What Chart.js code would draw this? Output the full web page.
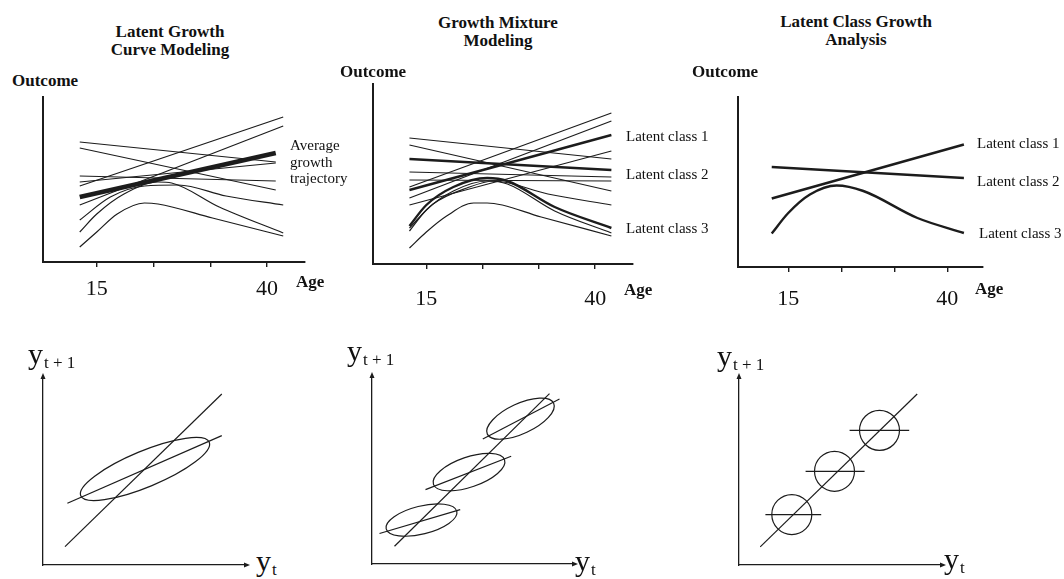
<!DOCTYPE html>
<html>
<head>
<meta charset="utf-8">
<script src="https://cdn.jsdelivr.net/npm/chart.js@4.4.1/dist/chart.umd.min.js"></script>
<style>
  html, body { margin: 0; padding: 0; background: #fff; }
  #fig { position: relative; width: 1064px; height: 579px; overflow: hidden;
         font-family: "Liberation Serif", "Times New Roman", serif; color: #111; }
  canvas { position: absolute; }
  .txt { position: absolute; white-space: nowrap; z-index: 2; }
  .title { font-weight: bold; font-size: 17px; line-height: 18px; text-align: center; transform: translateX(-50%); }
  .bold { font-weight: bold; font-size: 17px; line-height: 18px; }
  .lab { font-size: 15px; line-height: 18px; }
  .avg { font-size: 15px; line-height: 16.5px; }
  .yvar { font-size: 30px; line-height: 32px; }
  .yvar span { font-size: 17px; position: relative; top: 4px; margin-left: 1px; }
</style>
</head>
<body>
<div id="fig">
  <div class="txt title" style="left:170px; top:23px">Latent Growth<br>Curve Modeling</div>
  <div class="txt title" style="left:498px; top:14px">Growth Mixture<br>Modeling</div>
  <div class="txt title" style="left:856px; top:13px">Latent Class Growth<br>Analysis</div>

  <div class="txt bold" style="left:12px; top:72px">Outcome</div>
  <div class="txt bold" style="left:340px; top:63px">Outcome</div>
  <div class="txt bold" style="left:692px; top:63px">Outcome</div>

  <div class="txt bold" style="left:296px; top:273px">Age</div>
  <div class="txt bold" style="left:624px; top:281px">Age</div>
  <div class="txt bold" style="left:975px; top:280px">Age</div>

  <div class="txt avg" style="left:290px; top:137px">Average<br>growth<br>trajectory</div>

  <div class="txt lab" style="left:626px; top:127px">Latent class 1</div>
  <div class="txt lab" style="left:626px; top:165px">Latent class 2</div>
  <div class="txt lab" style="left:626px; top:219px">Latent class 3</div>

  <div class="txt lab" style="left:977px; top:134px">Latent class 1</div>
  <div class="txt lab" style="left:977px; top:172px">Latent class 2</div>
  <div class="txt lab" style="left:979px; top:224px">Latent class 3</div>

  <div class="txt yvar" style="left:28px; top:338px">y<span>t + 1</span></div>
  <div class="txt yvar" style="left:347px; top:335px">y<span>t + 1</span></div>
  <div class="txt yvar" style="left:717px; top:340px">y<span>t + 1</span></div>

  <div class="txt yvar" style="left:256px; top:545px">y<span>t</span></div>
  <div class="txt yvar" style="left:575px; top:545px">y<span>t</span></div>
  <div class="txt yvar" style="left:944px; top:543px">y<span>t</span></div>
</div>

<script>
// age axis (same for the three top panels)
const AGE_MIN = 7.1, AGE_MAX = 45.6;
const AGE_TICKS = [15, 23.33, 31.67, 40];
const AGE_LABELS = ['15', '', '', '40'];

// --- Latent Growth Curve Modeling: [age, outcome] ---
const lgcmAverage = [[12.5, 6.5], [41.3, 10.9]];
const lgcmIndividuals = [
    [[12.5, 12.0], [41.3, 10.0]],
    [[12.5, 11.4], [41.3, 7.2]],
    [[12.5, 8.6], [41.3, 8.1]],
    [[12.5, 8.0], [41.3, 9.9]],
    [[12.5, 7.6], [42.4, 14.5]],
    [[12.5, 5.7], [42.4, 13.6]],
    [[12.5, 4.2], [17, 6.5], [22, 7.6], [27, 7.7], [34, 6.6], [42.4, 5.7]],
    [[12.5, 3.0], [15, 4.8], [19, 6.8], [24, 8.0], [26, 7.9], [33, 5.5], [42.4, 2.9]],
    [[12.5, 1.5], [15, 3.0], [18, 4.8], [22, 5.9], [24, 5.8], [32, 4.4], [42.4, 2.6]]
];

// --- Growth Mixture Modeling ---
const gmmClasses = [
    [[12.5, 7.4], [42.4, 12.9]],
    [[12.5, 10.5], [42.4, 9.4]],
    [[12.5, 3.8], [15, 5.9], [19, 7.7], [24, 8.6], [27, 8.3], [34, 5.7], [42.4, 3.6]]
];
const gmmIndividuals = [
    [[12.5, 12.6], [42.4, 10.5]],
    [[12.5, 11.9], [42.4, 7.3]],
    [[12.5, 9.2], [42.4, 8.7]],
    [[12.5, 8.4], [42.4, 8.3]],
    [[12.5, 7.7], [42.4, 15.1]],
    [[12.5, 6.6], [42.4, 14.3]],
    [[12.5, 5.9], [42.4, 11.3]],
    [[12.5, 3.6], [16, 6.0], [21, 7.6], [25, 8.3], [33, 7.0], [42.4, 5.9]],
    [[12.5, 3.3], [15, 5.4], [19, 7.3], [24, 8.3], [27, 8.0], [34, 5.3], [42.4, 3.1]],
    [[12.5, 1.6], [15, 3.2], [18, 4.8], [22, 6.1], [24, 6.1], [32, 4.7], [42.4, 2.8]]
];

// --- Latent Class Growth Analysis ---
const lcgaClasses = [
    [[12.4, 6.85], [42.6, 12.25]],
    [[12.4, 10.0], [42.6, 8.9]],
    [[12.4, 3.35], [15, 5.4], [18.4, 7.25], [22.6, 8.15], [26.8, 7.6], [35.3, 4.9], [42.6, 3.4]]
];

// --- bottom row: y(t) vs y(t+1) ---
// ellipses: [cx, cy, semi-major, semi-minor, angle in degrees]
const singleLines = [
    [[1.1, 0.92], [8.94, 8.55]],
    [[1.22, 3.09], [8.94, 6.47]]
];
const singleEllipses = [[5.1, 4.8, 3.48, 0.9, 22.6]];

const mixtureLines = [
    [[1.125, 0.89], [8.875, 8.525]],
    [[0.375, 1.525], [4.41, 2.725]],
    [[2.675, 3.725], [6.96, 5.39]],
    [[5.54, 6.26], [9.375, 8.26]]
];
const mixtureEllipses = [
    [2.475, 2.2, 1.82, 0.7, 14],
    [4.85, 4.6, 1.88, 0.75, 19],
    [7.425, 7.275, 1.83, 0.75, 25]
];

const classLines = [
    [[1.06, 0.91], [8.91, 8.56]],
    [[1.32, 2.525], [4.11, 2.525]],
    [[3.33, 4.69], [6.28, 4.69]],
    [[5.53, 6.74], [8.51, 6.74]]
];
const classCircles = [
    [2.64, 2.525, 1.0, 1.0, 0],
    [4.775, 4.69, 1.0, 1.0, 0],
    [7.025, 6.74, 1.0, 1.0, 0]
];

const INK = '#1c1c1c';

function lineSet(points, width) {
    return {
        data: points.map(p => ({x: p[0], y: p[1]})),
        borderColor: INK,
        borderWidth: width,
        pointRadius: 0,
        fill: false,
        cubicInterpolationMode: points.length > 2 ? 'monotone' : 'default',
        tension: 0
    };
}

// ellipses drawn in data units through the chart scales
const ellipsePlugin = {
    id: 'ellipses',
    afterDatasetsDraw(chart, args, opts) {
        if (!opts.items) return;
        const {ctx} = chart;
        const x = chart.scales.x, y = chart.scales.y;
        const ux = Math.abs(x.getPixelForValue(1) - x.getPixelForValue(0));
        const uy = Math.abs(y.getPixelForValue(1) - y.getPixelForValue(0));
        ctx.save();
        ctx.strokeStyle = INK;
        ctx.lineWidth = 1.2;
        opts.items.forEach(([cx, cy, a, b, ang]) => {
            ctx.beginPath();
            ctx.ellipse(x.getPixelForValue(cx), y.getPixelForValue(cy), a * ux, b * uy,
                -ang * Math.PI / 180, 0, Math.PI * 2);
            ctx.stroke();
        });
        ctx.restore();
    }
};

// small arrow heads at the axis ends (bottom row)
const arrowPlugin = {
    id: 'arrows',
    afterDraw(chart, args, opts) {
        if (!opts.show) return;
        const {ctx, chartArea: a} = chart;
        ctx.save();
        ctx.fillStyle = INK;
        ctx.beginPath();
        ctx.moveTo(a.right + 5, a.bottom);
        ctx.lineTo(a.right - 1, a.bottom - 2.5);
        ctx.lineTo(a.right - 1, a.bottom + 2.5);
        ctx.fill();
        ctx.beginPath();
        ctx.moveTo(a.left, a.top - 5);
        ctx.lineTo(a.left - 2.5, a.top + 1);
        ctx.lineTo(a.left + 2.5, a.top + 1);
        ctx.fill();
        ctx.restore();
    }
};

Chart.register(ellipsePlugin, arrowPlugin);

const fig = document.getElementById('fig');

function makePanel(box, datasets, o) {
    const pad = 6;
    const canvas = document.createElement('canvas');
    canvas.width = box.right - box.left + pad * 2;
    canvas.height = box.bottom - box.top + pad * 2 + (o.xh || 0);
    canvas.style.left = (box.left - pad) + 'px';
    canvas.style.top = (box.top - pad) + 'px';
    fig.appendChild(canvas);

    const ageAxis = o.age;
    return new Chart(canvas, {
        type: 'line',
        data: {datasets: datasets},
        options: {
            responsive: false,
            animation: false,
            events: [],
            layout: {padding: {left: pad, right: pad, top: pad, bottom: pad}},
            plugins: {
                legend: {display: false},
                tooltip: {enabled: false},
                ellipses: {items: o.ellipses},
                arrows: {show: !ageAxis}
            },
            scales: {
                x: {
                    type: 'linear',
                    min: o.xmin, max: o.xmax,
                    border: {display: true, color: INK, width: o.axisWidth},
                    grid: {
                        display: ageAxis, drawOnChartArea: false, drawTicks: ageAxis,
                        tickLength: 5, color: INK, lineWidth: 1.4
                    },
                    afterBuildTicks: ageAxis ? (axis => { axis.ticks = AGE_TICKS.map(v => ({value: v})); }) : undefined,
                    ticks: {
                        display: ageAxis,
                        autoSkip: false, maxRotation: 0,
                        padding: o.tickPad || 0,
                        color: '#111',
                        font: {family: 'Liberation Serif', size: 22},
                        callback: v => AGE_LABELS[AGE_TICKS.indexOf(v)]
                    },
                    afterFit: axis => { axis.height = o.xh || 0; }
                },
                y: {
                    type: 'linear',
                    min: 0, max: o.ymax,
                    border: {display: true, color: INK, width: o.axisWidth},
                    grid: {display: false, drawTicks: false},
                    ticks: {display: false},
                    afterFit: axis => { axis.width = 0; }
                }
            }
        }
    });
}

// top row
makePanel({left: 43, top: 97, right: 305, bottom: 262},
    lgcmIndividuals.map(l => lineSet(l, 1.2)).concat([lineSet(lgcmAverage, 4.8)]),
    {age: true, xmin: AGE_MIN, xmax: AGE_MAX, ymax: 16.5, xh: 50, tickPad: 9, axisWidth: 2});

makePanel({left: 373, top: 84, right: 633, bottom: 264},
    gmmIndividuals.map(l => lineSet(l, 1.2)).concat(gmmClasses.map(l => lineSet(l, 2.4))),
    {age: true, xmin: AGE_MIN, xmax: AGE_MAX, ymax: 18.0, xh: 50, tickPad: 17, axisWidth: 2});

makePanel({left: 738, top: 97, right: 983, bottom: 267},
    lcgaClasses.map(l => lineSet(l, 2.4)),
    {age: true, xmin: AGE_MIN, xmax: AGE_MAX, ymax: 17.0, xh: 50, tickPad: 14, axisWidth: 2});

// bottom row
makePanel({left: 43, top: 378, right: 245, bottom: 565},
    singleLines.map(l => lineSet(l, 1.2)),
    {age: false, xmin: 0, xmax: 10.1, ymax: 9.35, ellipses: singleEllipses, axisWidth: 1.3});

makePanel({left: 372, top: 377, right: 573, bottom: 564},
    mixtureLines.map(l => lineSet(l, 1.2)),
    {age: false, xmin: 0, xmax: 10.05, ymax: 9.36, ellipses: mixtureEllipses, axisWidth: 1.3});

makePanel({left: 739, top: 378, right: 941, bottom: 565},
    classLines.map(l => lineSet(l, 1.2)),
    {age: false, xmin: 0, xmax: 10.1, ymax: 9.36, ellipses: classCircles, axisWidth: 1.3});
</script>
</body>
</html>
